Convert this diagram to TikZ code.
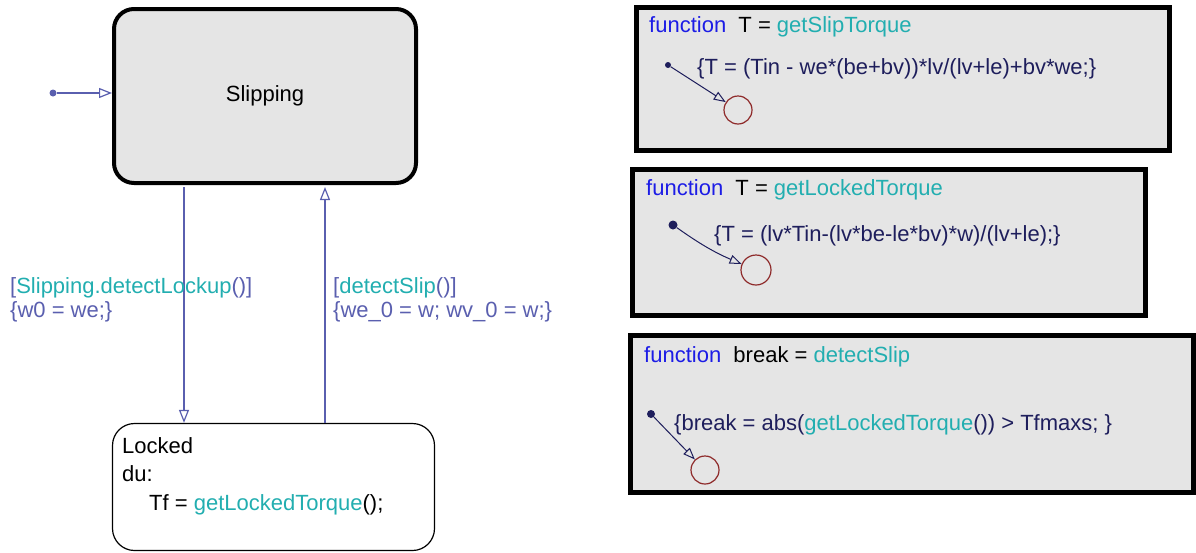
\documentclass[tikz,border=0pt]{standalone}
\usepackage{fontspec}
\setmainfont{Liberation Sans}
\usetikzlibrary{positioning, arrows.meta}
\definecolor{sBlue}{HTML}{5A5FAF}
\definecolor{sTeal}{HTML}{22AEB0}
\definecolor{sKey}{HTML}{1C1CE6}
\definecolor{sNavy}{HTML}{1E1E5C}
\definecolor{sRed}{HTML}{8E2A2A}
\definecolor{sFill}{HTML}{E5E5E5}

\begin{document}
\begin{tikzpicture}[x=1pt, y=-1pt,
  every node/.style={font=\fontsize{22}{26}\selectfont},
  txt/.style={anchor=base west, inner sep=0},
  chartstate/.style={draw, rounded corners=20pt, inner sep=0},
  fbox/.style={draw, line width=4.5pt, fill=sFill, inner sep=0},
  trans/.style={draw=sBlue, line width=1.2pt, -{Triangle[open, length=13pt, width=10pt]}},
  ftrans/.style={draw=sNavy, line width=1pt, -{Triangle[open, length=12pt, width=9pt]}},
  initdot/.style={circle, fill, inner sep=0, minimum size=#1},
  junc/.style={circle, draw=sRed, line width=1.2pt, minimum size=28pt, inner sep=0},
]
  \useasboundingbox (0,0) rectangle (1196,552);

  % chart states
  \node[chartstate, line width=4pt, fill=sFill, minimum width=302pt, minimum height=174pt]
    (slip) at (265,96) {Slipping};
  \node[chartstate, line width=1.2pt, rounded corners=22pt, fill=white, minimum width=322pt, minimum height=127pt]
    (locked) at (273.5,487) {};
  \node[txt] (lk1) at (122,453) {Locked};
  \node[txt] (lk2) at (122,481) {du:};
  \node[txt] (lk3) at (149,510) {Tf = {\color{sTeal}getLockedTorque}();};

  % transitions
  \node[initdot=7pt, sBlue] (init) at (53,93) {};
  \draw[trans] (init) -- (init -| slip.west);
  \draw[trans, shorten <=2pt] ([xshift=-81pt]slip.south) -- ([xshift=-81pt]slip.south |- locked.north);
  \draw[trans, shorten >=2pt] ([xshift=60pt]slip.south |- locked.north) -- ([xshift=60pt]slip.south);
  \node[txt, sBlue] (g1) at (10,293) {[{\color{sTeal}Slipping.detectLockup}()]};
  \node[txt, sBlue] (a1) at (10,317) {\{w0 = we;\}};
  \node[txt, sBlue] (g2) at (333,293) {[{\color{sTeal}detectSlip}()]};
  \node[txt, sBlue] (a2) at (333,317) {\{we\_0 = w; wv\_0 = w;\}};

  % graphical functions
  \node[fbox, minimum width=533pt, minimum height=143pt] (fn1) at (903,79) {};
  \node[txt] (t1) at (649,32) {{\color{sKey}function}\ \ T = {\color{sTeal}getSlipTorque}};
  \node[txt, sNavy] (b1) at (697,74) {\{T = (Tin - we*(be+bv))*lv/(lv+le)+bv*we;\}};
  \node[initdot=6pt, sNavy] (d1) at (668,65) {};
  \node[junc] (j1) at (738,110) {};
  \draw[ftrans] (d1) -- (j1);

  \node[fbox, minimum width=513pt, minimum height=146pt] (fn2) at (889,242.5) {};
  \node[txt] (t2) at (646,195) {{\color{sKey}function}\ \ T = {\color{sTeal}getLockedTorque}};
  \node[txt, sNavy] (b2) at (714,241) {\{T = (lv*Tin-(lv*be-le*bv)*w)/(lv+le);\}};
  \node[initdot=9pt, sNavy] (d2) at (673,225) {};
  \node[junc, minimum size=30pt] (j2) at (756,270) {};
  \draw[ftrans] (d2) to[bend right=6] (j2);

  \node[fbox, minimum width=563pt, minimum height=157pt] (fn3) at (912,414) {};
  \node[txt] (t3) at (644,362) {{\color{sKey}function}\ \ break = {\color{sTeal}detectSlip}};
  \node[txt, sNavy] (b3) at (674,430) {\{break = abs({\color{sTeal}getLockedTorque}()) > Tfmaxs; \}};
  \node[initdot=8pt, sNavy] (d3) at (651,414) {};
  \node[junc] (j3) at (705,470) {};
  \draw[ftrans] (d3) -- (j3);
\end{tikzpicture}
\end{document}
